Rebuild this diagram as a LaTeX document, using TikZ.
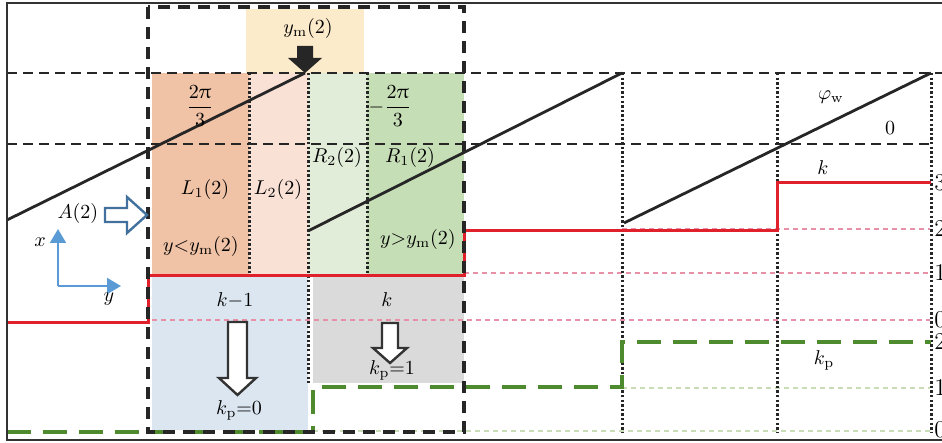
\documentclass[tikz,border=0pt]{standalone}
\usepackage{amsmath}
\usepackage{upgreek}
\usetikzlibrary{arrows.meta}

\definecolor{lonebg}{HTML}{F0C2A6}
\definecolor{ltwobg}{HTML}{F9E1D6}
\definecolor{rtwobg}{HTML}{E2EDD9}
\definecolor{ronebg}{HTML}{C6DEB6}
\definecolor{ymbg}{HTML}{FCEBCB}
\definecolor{kzerobg}{HTML}{DBE6F1}
\definecolor{konebg}{HTML}{DADADA}
\definecolor{kred}{HTML}{E0202A}
\definecolor{kpink}{HTML}{E890A8}
\definecolor{kpgreen}{HTML}{4E8A2E}
\definecolor{kplight}{HTML}{C8DCB8}
\definecolor{axisblue}{HTML}{5B9BD5}
\definecolor{arrowblue}{HTML}{41719C}
\definecolor{framegray}{HTML}{333333}

\begin{document}
\begin{tikzpicture}[
  x=0.5pt, y=-0.5pt,
  level/.style={line width=1pt, dash pattern=on 5pt off 3pt, black!85},
  window/.style={line width=1.6pt, dash pattern=on 6pt off 4pt, black!85},
  border/.style={line width=1.5pt, dash pattern=on 1.2pt off 1.1pt, black!85},
  ramp/.style={line width=1.4pt, black!85},
  kstep/.style={line width=1.5pt, kred},
  kref/.style={line width=0.7pt, kpink, dash pattern=on 2.5pt off 2pt},
  kpstep/.style={line width=1.6pt, kpgreen, dash pattern=on 12pt off 6pt},
  kpref/.style={line width=0.7pt, kplight, dash pattern=on 2.5pt off 2pt},
  hollow/.style={line width=1.2pt, draw=black!80, fill=white},
  axis/.style={line width=1pt, axisblue, -{Triangle[length=7pt,width=8pt]}},
  lbl/.style={inner sep=1pt},
  tick/.style={anchor=west, inner sep=0pt, font=\large}
]
\useasboundingbox (0,0) rectangle (942,443);

% coloured regions
\fill[ymbg] (246,9) rectangle (364,73);
\fill[lonebg] (152,73) rectangle (249,276);
\fill[ltwobg] (249,73) rectangle (308,276);
\fill[rtwobg] (308,73) rectangle (367,276);
\fill[ronebg] (367,73) rectangle (464,276);
\fill[kzerobg] (152,276) rectangle (308,430);
\fill[konebg] (313,276) rectangle (464,383);

% reference levels for k and k_p
\draw[kref] (152,320) -- (930,320);
\draw[kref] (464,273) -- (930,273);
\draw[kref] (622,229) -- (930,229);
\draw[kpref] (313,431) -- (930,431);
\draw[kpref] (622,388) -- (930,388);

% grid
\draw[level] (7,73) -- (942,73);
\draw[level] (7,144) -- (930,144);
\draw[border] (249,73) -- (249,276);
\draw[border] (308,73) -- (308,383);
\draw[border] (367,73) -- (367,276);
\draw[border] (622,73) -- (622,432);
\draw[border] (777,73) -- (777,432);
\draw[border] (931,73) -- (931,432);

% wrapped phase
\draw[ramp] (7,220) -- (305,73);
\draw[ramp] (308,231) -- (622,73);
\draw[ramp] (624,223) -- (931,73);

% k and k_p
\draw[kstep] (7,322) -- (148,322) -- (148,276) -- (464,276) -- (464,231)
  -- (777,231) -- (777,183) -- (931,183);
\draw[kpstep] (7,432) -- (313,432) -- (313,387) -- (622,387) -- (622,342) -- (931,342);

% window
\draw[window] (148,7) rectangle (464,432);

% frame
\draw[line width=1.2pt, framegray] (945,3) -- (7,3) -- (7,440) -- (945,440);

% arrows
\fill[black!85] (297,46) -- (313,46) -- (313,58) -- (322,58) -- (305,73)
  -- (288,58) -- (297,58) -- cycle;
\draw[hollow, draw=arrowblue] (105,208) -- (127,208) -- (127,197) -- (147,215)
  -- (127,233) -- (127,222) -- (105,222) -- cycle;
\draw[hollow] (228,322) -- (247,322) -- (247,378) -- (256,378) -- (237.5,395)
  -- (219,378) -- (228,378) -- cycle;
\draw[hollow] (382,323) -- (398,323) -- (398,348) -- (407,348) -- (390,363)
  -- (373,348) -- (382,348) -- cycle;

% axes
\coordinate (o) at (58,286);
\coordinate (xtip) at (58,229);
\coordinate (ytip) at (121,286);
\draw[axis] (o) -- (xtip);
\draw[axis] (o) -- (ytip);
\node[lbl] (xlab) at (40,242) {$x$};
\node[lbl] (ylab) at (109,299) {$y$};

% labels
\node[lbl] (ym) at (308,29) {$y_{\mathrm{m}}(2)$};
\node[lbl] (lphase) at (200,106) {$\dfrac{2\uppi}{3}$};
\node[lbl] (rphase) at (390,106) {$-\dfrac{2\uppi}{3}$};
\node[lbl] (lone) at (205,190) {$L_1(2)$};
\node[lbl] (ltwo) at (278,190) {$L_2(2)$};
\node[lbl] (rtwo) at (337,158) {$R_2(2)$};
\node[lbl] (rone) at (410,158) {$R_1(2)$};
\node[lbl] (atwo) at (78,214) {$A(2)$};
\node[lbl] (less) at (201,247) {$y{<}y_{\mathrm{m}}(2)$};
\node[lbl] (more) at (418,240) {$y{>}y_{\mathrm{m}}(2)$};
\node[lbl] (kminus) at (235,300) {$k{-}1$};
\node[lbl] (kmid) at (387,300) {$k$};
\node[lbl] (kpzero) at (239,410) {$k_{\mathrm{p}}{=}0$};
\node[lbl] (kpone) at (392,370) {$k_{\mathrm{p}}{=}1$};
\node[lbl] (phiw) at (831,97) {$\varphi_{\mathrm{w}}$};
\node[lbl] (zero) at (890,128) {$0$};
\node[lbl] (kright) at (823,168) {$k$};
\node[lbl] (kpright) at (824,360) {$k_{\mathrm{p}}$};

% scale values, cut at the edge as in the figure
\node[tick] (tkthree) at (934,183) {3};
\node[tick] (tktwo) at (934,229) {2};
\node[tick] (tkone) at (934,273) {1};
\node[tick] (tkzero) at (934,320) {0};
\node[tick] (tkptwo) at (934,342) {2};
\node[tick] (tkpone) at (934,388) {1};
\node[tick] (tkpzero) at (934,430) {0};
\end{tikzpicture}
\end{document}
